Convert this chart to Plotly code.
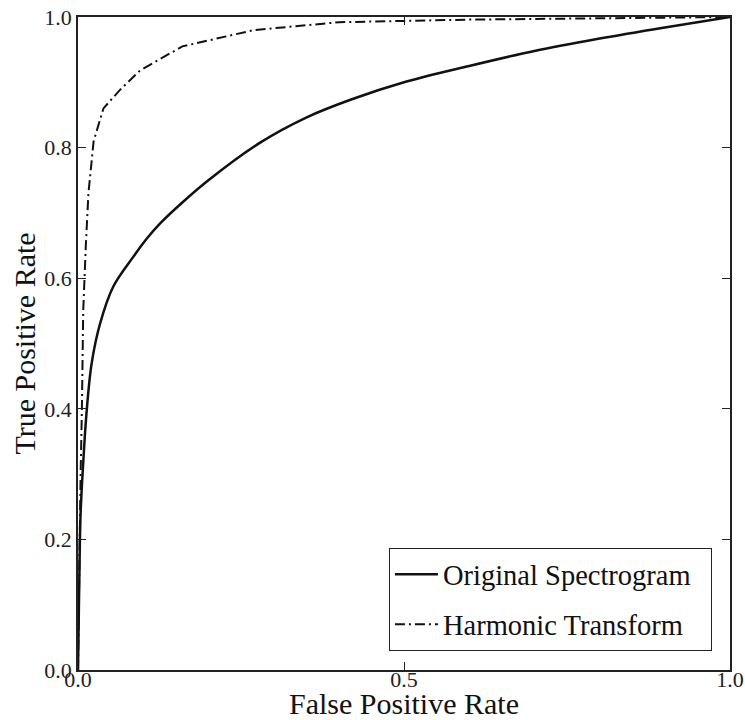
import plotly.graph_objects as go

# False positive rate / true positive rate for each method
orig_fpr = [0, 0.001, 0.002, 0.004, 0.008, 0.013, 0.021, 0.034, 0.054, 0.085, 0.105,
            0.126, 0.16, 0.2, 0.28, 0.35, 0.42, 0.5, 0.6, 0.7, 0.8, 0.9, 1.0]
orig_tpr = [0, 0.07, 0.138, 0.24, 0.317, 0.393, 0.47, 0.531, 0.587, 0.633, 0.66,
            0.684, 0.716, 0.75, 0.808, 0.846, 0.874, 0.90, 0.925, 0.948, 0.967, 0.984, 1.0]

harm_fpr = [0, 0.001, 0.002, 0.004, 0.006, 0.008, 0.012, 0.016, 0.024, 0.039, 0.064,
            0.095, 0.16, 0.27, 0.4, 0.6, 0.8, 1.0]
harm_tpr = [0, 0.1, 0.2, 0.3, 0.4, 0.55, 0.65, 0.73, 0.81, 0.86, 0.888,
            0.918, 0.955, 0.98, 0.992, 0.996, 0.998, 1.0]

x_ticks = [0.0, 0.5, 1.0]
x_labels = ["0.0", "0.5", "1.0"]
y_ticks = [0.0, 0.2, 0.4, 0.6, 0.8, 1.0]
y_labels = ["0.0", "0.2", "0.4", "0.6", "0.8", "1.0"]

FONT = "Liberation Serif, Times New Roman, serif"
AX = "#222222"

fig = go.Figure()
fig.add_trace(go.Scatter(
    x=orig_fpr, y=orig_tpr, mode="lines", name="Original Spectrogram\u00a0\u00a0",
    legendgroup="a",
    line=dict(color="#111111", width=2.5, shape="spline", smoothing=1.0),
))
fig.add_trace(go.Scatter(
    x=harm_fpr, y=harm_tpr, mode="lines", name="Harmonic Transform",
    legendgroup="b",
    line=dict(color="#111111", width=2, dash="10px,4px,2px,4px"),
))

axis_common = dict(
    showgrid=False, zeroline=False, showline=True, linecolor=AX, linewidth=1.5,
    mirror="ticks", ticks="inside", ticklen=8, tickwidth=1.2, tickcolor=AX,
    ticklabeloverflow="allow",
    tickfont=dict(family=FONT, size=22, color="#222"),
)

fig.update_layout(
    width=745, height=720,
    margin=dict(l=78, r=15, t=17, b=50, autoexpand=False),
    paper_bgcolor="white", plot_bgcolor="white",
    font=dict(family=FONT, color="#111"),
    xaxis=dict(range=[0, 1], tickvals=x_ticks, ticktext=x_labels, ticklabelstandoff=-11,
               title=dict(text="False Positive Rate", font=dict(family=FONT, size=30), standoff=0),
               **axis_common),
    yaxis=dict(range=[0, 1], tickvals=y_ticks, ticktext=y_labels,
               title=dict(text="True Positive Rate", font=dict(family=FONT, size=30), standoff=0),
               **axis_common),
    legend=dict(x=0.972, y=0.029, xanchor="right", yanchor="bottom",
                bgcolor="white", bordercolor="#222", borderwidth=1.2,
                font=dict(family=FONT, size=28.5, color="#111"),
                itemwidth=43,
                tracegroupgap=10, traceorder="grouped"),
    showlegend=True,
)

fig.write_html(
    "out.html",
    config={"displayModeBar": False},
    post_script="document.body.style.margin='0';document.body.style.overflow='hidden';",
)
